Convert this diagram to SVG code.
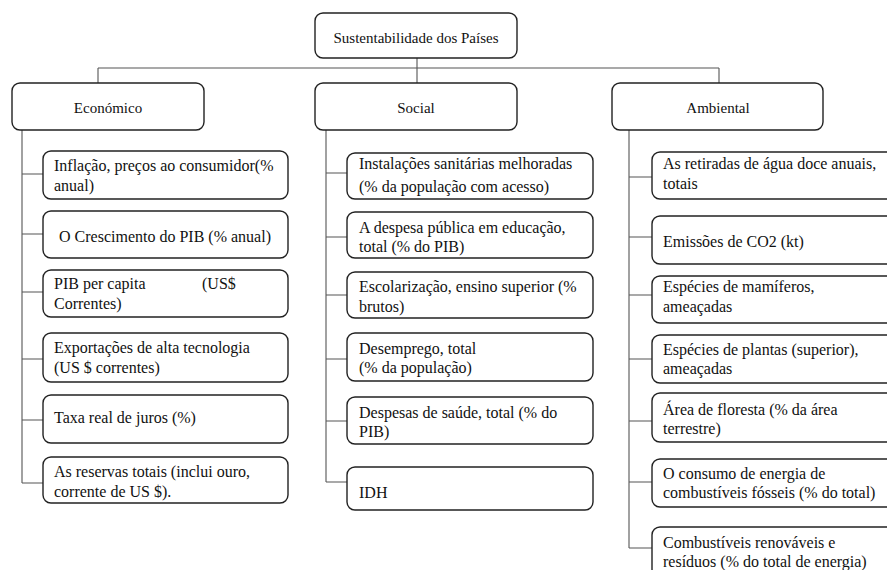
<svg xmlns="http://www.w3.org/2000/svg" width="887" height="570" viewBox="0 0 887 570">
<style>
.box{fill:#fff;stroke:#222;stroke-width:1.4}
.conn{stroke:#555;stroke-width:1.1;fill:none}
.h{font-size:15px}
.t{font-size:16px}
</style>
<rect width="887" height="570" fill="#fff"/>
<g id="connectors">
<path class="conn" d="M417 58V83M98 68H719M98 68V83M719 68V83"/>
<path class="conn" d="M22 130V483M22 174H43M22 234H43M22 292H43M22 359H43M22 420H43M22 483H43"/>
<path class="conn" d="M326 130V482M326 173H347M326 237H347M326 295H347M326 359H347M326 421H347M326 482H347"/>
<path class="conn" d="M629 130V548M629 177H652M629 237H652M629 295H652M629 359H652M629 421H652M629 482H652M629 548H652"/>
</g>
<g font-family="Liberation Serif, DejaVu Serif, serif" fill="#111">
<g id="root"><rect class="box" x="315" y="13" width="202" height="45" rx="8"/><text class="h" x="416" y="43" text-anchor="middle">Sustentabilidade dos Países</text></g>
<g id="economico"><rect class="box" x="12" y="83" width="192" height="47" rx="8"/><text class="h" x="108" y="113" text-anchor="middle">Económico</text></g>
<g id="social"><rect class="box" x="315" y="83" width="202" height="47" rx="8"/><text class="h" x="416" y="113" text-anchor="middle">Social</text></g>
<g id="ambiental"><rect class="box" x="612" y="83" width="211" height="47" rx="8"/><text class="h" x="718" y="113" text-anchor="middle">Ambiental</text></g>

<g id="e1"><rect class="box" x="43" y="151" width="245" height="48" rx="8"/><text class="t" x="54" y="171">Inflação, preços ao consumidor(%</text><text class="t" x="54" y="191">anual)</text></g>
<g id="e2"><rect class="box" x="43" y="211" width="245" height="47" rx="8"/><text class="t" x="59" y="242">O Crescimento do PIB (% anual)</text></g>
<g id="e3"><rect class="box" x="43" y="270" width="245" height="47" rx="8"/><text class="t" x="54" y="289">PIB per capita</text><text class="t" x="202" y="289">(US$</text><text class="t" x="54" y="309">Correntes)</text></g>
<g id="e4"><rect class="box" x="43" y="333" width="245" height="49" rx="8"/><text class="t" x="54" y="353">Exportações de alta tecnologia</text><text class="t" x="54" y="373">(US $ correntes)</text></g>
<g id="e5"><rect class="box" x="43" y="395" width="245" height="48" rx="8"/><text class="t" x="54" y="423">Taxa real de juros (%)</text></g>
<g id="e6"><rect class="box" x="43" y="457" width="245" height="46" rx="8"/><text class="t" x="54" y="477">As reservas totais (inclui ouro,</text><text class="t" x="54" y="497">corrente de US $).</text></g>

<g id="s1"><rect class="box" x="347" y="153" width="246" height="46" rx="8"/><text class="t" x="359" y="169">Instalações sanitárias melhoradas</text><text class="t" x="359" y="192">(% da população com acesso)</text></g>
<g id="s2"><rect class="box" x="347" y="212" width="246" height="46" rx="8"/><text class="t" x="359" y="233">A despesa pública em educação,</text><text class="t" x="359" y="252">total (% do PIB)</text></g>
<g id="s3"><rect class="box" x="347" y="272" width="246" height="46" rx="8"/><text class="t" x="359" y="292">Escolarização,  ensino superior (%</text><text class="t" x="359" y="312">brutos)</text></g>
<g id="s4"><rect class="box" x="347" y="333" width="246" height="48" rx="8"/><text class="t" x="359" y="354">Desemprego, total</text><text class="t" x="359" y="373"> (% da população)</text></g>
<g id="s5"><rect class="box" x="347" y="397" width="246" height="47" rx="8"/><text class="t" x="359" y="418">Despesas de saúde, total (% do</text><text class="t" x="359" y="437">PIB)</text></g>
<g id="s6"><rect class="box" x="347" y="467" width="246" height="43" rx="8"/><text class="t" x="359" y="498">IDH</text></g>

<g id="a1"><rect class="box" x="652" y="152" width="250" height="47" rx="8"/><text class="t" x="663" y="169">As retiradas de água doce anuais,</text><text class="t" x="663" y="189">totais</text></g>
<g id="a2"><rect class="box" x="652" y="216" width="250" height="48" rx="8"/><text class="t" x="663" y="247">Emissões de CO2 (kt)</text></g>
<g id="a3"><rect class="box" x="652" y="276" width="250" height="47" rx="8"/><text class="t" x="663" y="292">Espécies de mamíferos,</text><text class="t" x="663" y="312">ameaçadas</text></g>
<g id="a4"><rect class="box" x="652" y="335" width="250" height="48" rx="8"/><text class="t" x="663" y="355">Espécies de plantas (superior),</text><text class="t" x="663" y="374">ameaçadas</text></g>
<g id="a5"><rect class="box" x="652" y="393" width="250" height="49" rx="8"/><text class="t" x="663" y="415">Área de floresta (% da área</text><text class="t" x="663" y="434">terrestre)</text></g>
<g id="a6"><rect class="box" x="652" y="459" width="250" height="48" rx="8"/><text class="t" x="663" y="479">O consumo de energia de</text><text class="t" x="663" y="498">combustíveis fósseis (% do total)</text></g>
<g id="a7"><rect class="box" x="652" y="527" width="250" height="50" rx="8"/><text class="t" x="663" y="548">Combustíveis renováveis e</text><text class="t" x="663" y="567">resíduos (% do total de energia)</text></g>
</g>
</svg>
